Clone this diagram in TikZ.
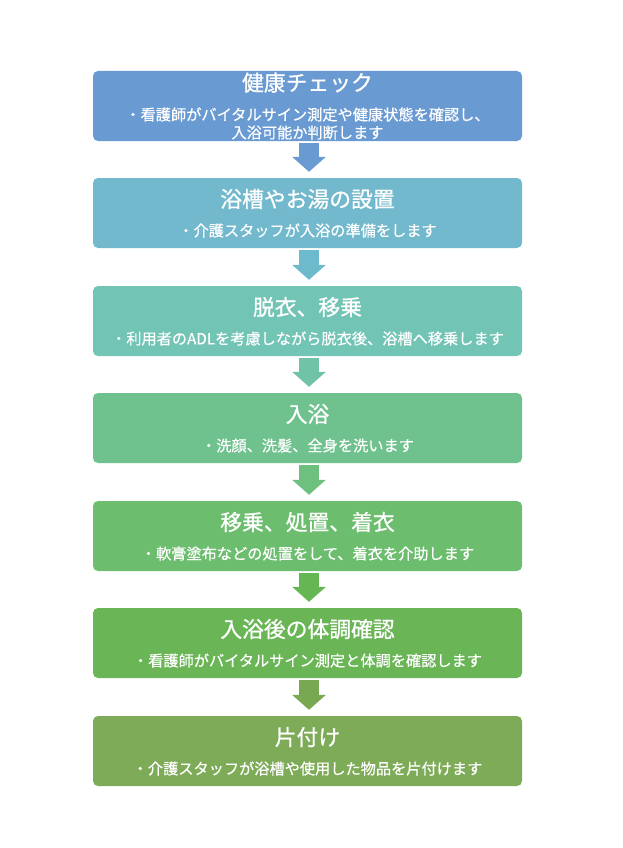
\documentclass[tikz,border=0pt]{standalone}
\usepackage{fontspec}
\setmainfont{Noto Sans CJK JP}
\newfontfamily\ttlfont{Noto Sans CJK JP}[FakeBold=0.8]
\newfontfamily\bdyfont{Noto Sans CJK JP}[FakeBold=0.5]
\usetikzlibrary{arrows.meta}
\definecolor{c1}{HTML}{6A9AD2}
\definecolor{c2}{HTML}{72B9CD}
\definecolor{c3}{HTML}{72C4B5}
\definecolor{c4}{HTML}{6FC28E}
\definecolor{c5}{HTML}{6CBD6E}
\definecolor{c6}{HTML}{6AB656}
\definecolor{c7}{HTML}{7EAB57}
\definecolor{a1}{HTML}{6A9AD2}
\definecolor{a2}{HTML}{6CBACB}
\definecolor{a3}{HTML}{70C3A6}
\definecolor{a4}{HTML}{6EC07E}
\definecolor{a5}{HTML}{64B752}
\definecolor{a6}{HTML}{78A852}
\tikzset{
  stepbox/.style={rectangle, rounded corners=5pt, minimum width=429pt, minimum height=70pt, inner sep=0pt, draw=none},
  ttl/.style={anchor=base, text=white, font=\ttlfont\fontsize{21.8pt}{24pt}\selectfont, inner sep=0pt},
  bdy/.style={anchor=base, text=white, font=\bdyfont\fontsize{15.2pt}{18pt}\selectfont, inner sep=0pt},
  flow/.style={line width=20pt, -{Triangle[width=33pt,length=15pt]}, shorten <=2pt, shorten >=6pt}
}
\begin{document}
\begin{tikzpicture}[x=1pt,y=1pt]
\useasboundingbox (0,0) rectangle (622,-848);
% boxes
\node[stepbox, fill=c1] (b1) at (307.5,-106) {};
\node[stepbox, fill=c2] (b2) at (307.5,-213) {};
\node[stepbox, fill=c3] (b3) at (307.5,-321) {};
\node[stepbox, fill=c4] (b4) at (307.5,-428) {};
\node[stepbox, fill=c5] (b5) at (307.5,-536) {};
\node[stepbox, fill=c6] (b6) at (307.5,-643) {};
\node[stepbox, fill=c7] (b7) at (307.5,-751) {};
% texts
\node[ttl] (t1) at ([yshift=-20pt]b1.north) {健康チェック};
\node[bdy] (d1a) at ([yshift=-49.5pt]b1.north) {・看護師がバイタルサイン測定や健康状態を確認し、};
\node[bdy] (d1b) at ([yshift=-67.5pt]b1.north) {入浴可能か判断します};
\node[ttl] (t2) at ([yshift=-29.5pt]b2.north) {浴槽やお湯の設置};
\node[bdy] (d2) at ([yshift=-58.5pt]b2.north) {・介護スタッフが入浴の準備をします};
\node[ttl] (t3) at ([yshift=-29.5pt]b3.north) {脱衣、移乗};
\node[bdy] (d3) at ([yshift=-58.5pt]b3.north) {・利用者のADLを考慮しながら脱衣後、浴槽へ移乗します};
\node[ttl] (t4) at ([yshift=-29.5pt]b4.north) {入浴};
\node[bdy] (d4) at ([yshift=-58.5pt]b4.north) {・洗顔、洗髪、全身を洗います};
\node[ttl] (t5) at ([yshift=-29.5pt]b5.north) {移乗、処置、着衣};
\node[bdy] (d5) at ([yshift=-58.5pt]b5.north) {・軟膏塗布などの処置をして、着衣を介助します};
\node[ttl] (t6) at ([yshift=-29.5pt]b6.north) {入浴後の体調確認};
\node[bdy] (d6) at ([yshift=-58.5pt]b6.north) {・看護師がバイタルサイン測定と体調を確認します};
\node[ttl] (t7) at ([yshift=-29.5pt]b7.north) {片付け};
\node[bdy] (d7) at ([yshift=-58.5pt]b7.north) {・介護スタッフが浴槽や使用した物品を片付けます};
% arrows
\draw[flow, draw=a1, fill=a1] ([xshift=1.5pt]b1.south) -- ([xshift=1.5pt]b2.north);
\draw[flow, draw=a2, fill=a2] ([xshift=1.5pt]b2.south) -- ([xshift=1.5pt]b3.north);
\draw[flow, draw=a3, fill=a3] ([xshift=1.5pt]b3.south) -- ([xshift=1.5pt]b4.north);
\draw[flow, draw=a4, fill=a4] ([xshift=1.5pt]b4.south) -- ([xshift=1.5pt]b5.north);
\draw[flow, draw=a5, fill=a5] ([xshift=1.5pt]b5.south) -- ([xshift=1.5pt]b6.north);
\draw[flow, draw=a6, fill=a6] ([xshift=1.5pt]b6.south) -- ([xshift=1.5pt]b7.north);
\end{tikzpicture}
\end{document}
